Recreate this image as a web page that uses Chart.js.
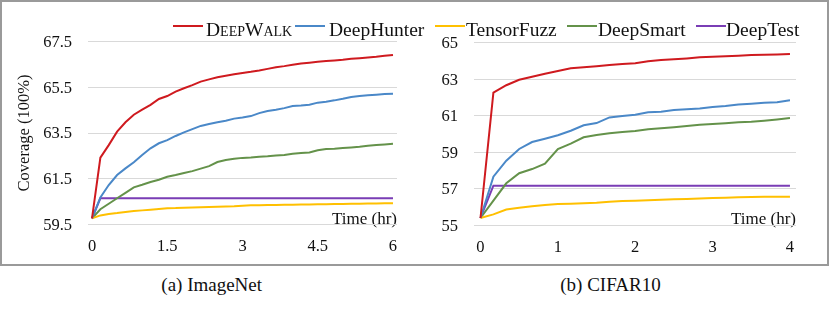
<!DOCTYPE html>
<html><head><meta charset="utf-8">
<script src="https://cdn.jsdelivr.net/npm/chart.js@4.4.0/dist/chart.umd.min.js"></script>
<style>
html,body{margin:0;padding:0;background:#fff;}
#wrap{position:relative;width:830px;height:310px;overflow:hidden;font-family:'Liberation Serif','Times New Roman',serif;color:#111;background:#fff;}
#frame{position:absolute;left:0;top:0;width:829px;height:266px;box-sizing:border-box;border:2px solid #9a9a9a;}
canvas{position:absolute;top:0;}
#cA{left:0;} #cB{left:415px;}
.lg{position:absolute;top:20px;height:20px;}
.ln{position:absolute;top:25px;width:30px;height:2px;}
.tx{position:absolute;top:20px;font-size:19.5px;line-height:20px;white-space:nowrap;}
.cap{position:absolute;top:273.6px;width:240px;text-align:center;font-size:19px;line-height:22px;}
</style></head>
<body><div id="wrap">
<canvas id="cA" width="415" height="265"></canvas>
<canvas id="cB" width="415" height="265"></canvas>
<div id="frame"></div>
<div id="legend"></div>
<div class="cap" style="left:91.7px">(a) ImageNet</div>
<div class="cap" style="left:490.5px">(b) CIFAR10</div>
</div>
<script>
// ---- data ----
const seriesNames = ['DeepWalk','DeepHunter','TensorFuzz','DeepSmart','DeepTest'];
const seriesColors = ['#cf1a1f','#4a88c8','#ffc000','#64924a','#7a3db5'];

const imagenetMinutes = [0,10,20,30,40,50,60,70,80,90,100,110,120,130,140,150,160,170,180,190,200,210,220,230,240,250,260,270,280,290,300,310,320,330,340,350,360];
const imagenetDeepWalk = [59.76,62.42,62.97,63.56,63.97,64.30,64.52,64.73,64.99,65.12,65.31,65.46,65.60,65.75,65.85,65.94,66.01,66.07,66.13,66.18,66.24,66.31,66.38,66.43,66.49,66.54,66.58,66.62,66.65,66.68,66.71,66.75,66.78,66.81,66.84,66.88,66.92];
const imagenetDeepHunter = [59.76,60.68,61.22,61.66,61.95,62.22,62.54,62.83,63.05,63.19,63.37,63.53,63.67,63.81,63.89,63.97,64.04,64.13,64.18,64.24,64.37,64.46,64.52,64.59,64.68,64.70,64.74,64.83,64.87,64.93,65.00,65.08,65.12,65.15,65.18,65.21,65.22];
const imagenetTensorFuzz = [59.76,59.89,59.95,59.99,60.04,60.08,60.11,60.14,60.17,60.20,60.21,60.23,60.24,60.25,60.26,60.27,60.28,60.29,60.31,60.33,60.34,60.35,60.35,60.36,60.36,60.37,60.37,60.38,60.38,60.39,60.39,60.40,60.40,60.41,60.41,60.42,60.42];
const imagenetDeepSmart = [59.76,60.16,60.40,60.64,60.88,61.12,61.23,61.35,61.45,61.58,61.66,61.75,61.83,61.94,62.05,62.23,62.32,62.37,62.41,62.43,62.46,62.48,62.51,62.54,62.59,62.62,62.65,62.74,62.80,62.81,62.84,62.87,62.90,62.94,62.97,63.00,63.03];
const imagenetDeepTest = [59.76,60.64,60.64,60.64,60.64,60.64,60.64,60.64,60.64,60.64,60.64,60.64,60.64,60.64,60.64,60.64,60.64,60.64,60.64,60.64,60.64,60.64,60.64,60.64,60.64,60.64,60.64,60.64,60.64,60.64,60.64,60.64,60.64,60.64,60.64,60.64,60.64];

const cifarMinutes = [0,10,20,30,40,50,60,70,80,90,100,110,120,130,140,150,160,170,180,190,200,210,220,230,240];
const cifarDeepWalk = [55.40,62.26,62.67,62.97,63.14,63.30,63.45,63.60,63.65,63.71,63.78,63.83,63.87,63.98,64.05,64.09,64.14,64.20,64.23,64.26,64.29,64.33,64.34,64.36,64.38];
const cifarDeepHunter = [55.40,57.66,58.54,59.18,59.56,59.74,59.93,60.18,60.48,60.60,60.91,60.98,61.06,61.19,61.22,61.31,61.35,61.40,61.48,61.53,61.61,61.66,61.71,61.74,61.85];
const cifarTensorFuzz = [55.40,55.60,55.86,55.96,56.04,56.11,56.16,56.18,56.21,56.24,56.29,56.33,56.35,56.37,56.40,56.42,56.44,56.47,56.50,56.51,56.53,56.55,56.56,56.57,56.57];
const cifarDeepSmart = [55.40,56.35,57.30,57.85,58.08,58.37,59.18,59.47,59.82,59.95,60.04,60.11,60.16,60.26,60.31,60.37,60.44,60.50,60.55,60.59,60.64,60.67,60.73,60.80,60.87];
const cifarDeepTest = [55.40,57.17,57.17,57.17,57.17,57.17,57.17,57.17,57.17,57.17,57.17,57.17,57.17,57.17,57.17,57.17,57.17,57.17,57.17,57.17,57.17,57.17,57.17,57.17,57.17];

const imagenetXTicks = [0,1.5,3,4.5,6];
const imagenetYTicks = [59.5,61.5,63.5,65.5,67.5];
const cifarXTicks = [0,1,2,3,4];
const cifarYTicks = [55,57,59,61,63,65];

const yTitle = 'Coverage (100%)';
const xTitle = 'Time (hr)';

// ---- legend (HTML, real text) ----
const legLineX = [173,295,435,567,696];
const legTextX = [206,329,466,598,726];
const legend = document.getElementById('legend');
seriesNames.forEach((n,k)=>{
  const ln = document.createElement('div');
  ln.className='ln'; ln.style.left=legLineX[k]+'px'; ln.style.background=seriesColors[k];
  const tx = document.createElement('div');
  tx.className='tx'; tx.style.left=legTextX[k]+'px'; tx.textContent=n;
  if (k===0) tx.style.fontVariant='small-caps';
  legend.appendChild(ln); legend.appendChild(tx);
});

Chart.defaults.font.family = "'Liberation Serif','Times New Roman',serif";
Chart.defaults.color = '#111';

function makeChart(id, minutes, vals, xTicks, yTicks, xMin, xMax, o) {
  const datasets = seriesNames.map((name,k)=>({
    label: name,
    data: minutes.map((m,i)=>({x: m/60, y: vals[k][i]})),
    borderColor: seriesColors[k], backgroundColor: seriesColors[k],
    borderWidth: 2, pointRadius: 0, tension: 0, fill: false
  }));
  return new Chart(document.getElementById(id), {
    type: 'line',
    data: {datasets},
    options: {
      responsive: false, animation: false, events: [],
      layout: {padding: {top: o.top, right: o.right, left: 0, bottom: 0}},
      plugins: {legend: {display: false}, tooltip: {enabled: false}},
      scales: {
        x: {
          type: 'linear', min: xMin, max: xMax,
          afterBuildTicks: s => { s.ticks = xTicks.map(v => ({value: v})); },
          afterFit: s => { s.height = o.xh; },
          grid: {display: false, drawTicks: false}, border: {display: false},
          ticks: {padding: 12, maxRotation: 0, autoSkip: false, font: {size: 16.5}, color: '#111', callback: v => String(v)},
          title: {display: true, text: xTitle, align: 'end', font: {size: 17}, color: '#111', padding: {top: 0, bottom: 35.5}}
        },
        y: {
          min: yTicks[0], max: yTicks[yTicks.length-1],
          afterBuildTicks: s => { s.ticks = yTicks.map(v => ({value: v})); },
          afterFit: s => { s.width = o.yw; },
          grid: {color: '#d9d9d9', lineWidth: 1, drawTicks: false}, border: {display: false},
          ticks: {padding: 16, labelOffset: 1, font: {size: 16.5}, color: '#111', callback: v => String(v)},
          title: o.ytitle ? {display: true, text: o.ytitle, font: {size: 16.5}, color: '#111', padding: {top: 14.6, bottom: 0}} : {display: false}
        }
      }
    }
  });
}

makeChart('cA', imagenetMinutes,
  [imagenetDeepWalk, imagenetDeepHunter, imagenetTensorFuzz, imagenetDeepSmart, imagenetDeepTest],
  imagenetXTicks, imagenetYTicks, -0.08, 6.08,
  {top: 41.7, right: 18, xh: 40.7, yw: 88, ytitle: yTitle});

makeChart('cB', cifarMinutes,
  [cifarDeepWalk, cifarDeepHunter, cifarTensorFuzz, cifarDeepSmart, cifarDeepTest],
  cifarXTicks, cifarYTicks, -0.084, 4.078,
  {top: 42.7, right: 34, xh: 39.7, yw: 59, ytitle: null});
</script>
</body></html>
